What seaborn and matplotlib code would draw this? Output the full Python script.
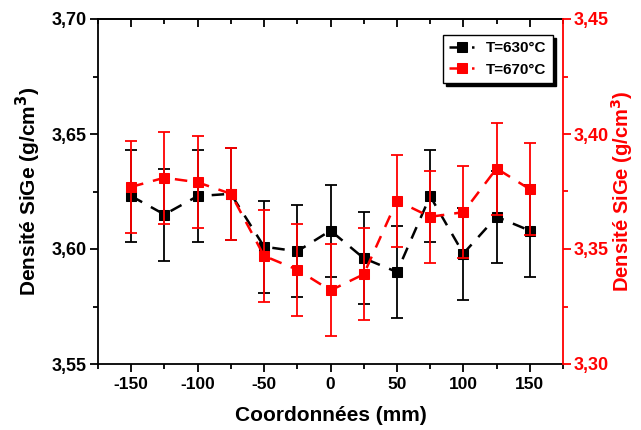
import matplotlib
matplotlib.use("Agg")
import matplotlib.pyplot as plt
import matplotlib.ticker as mticker
import pandas as pd
import seaborn as sns

coords = [-150, -125, -100, -75, -50, -25, 0, 25, 50, 75, 100, 125, 150]
dens_630 = [3.623, 3.615, 3.623, 3.624, 3.601, 3.599, 3.608, 3.596, 3.590, 3.623, 3.598, 3.614, 3.608]
err_630 = [0.02] * 13
dens_670 = [3.377, 3.381, 3.379, 3.374, 3.347, 3.341, 3.332, 3.339, 3.371, 3.364, 3.366, 3.385, 3.376]
err_670 = [0.02] * 13


def comma_fmt(v, pos):
    return f"{v:.2f}".replace(".", ",")


def main():
    sns.set_style("ticks")
    plt.rcParams["font.family"] = ["Liberation Sans", "DejaVu Sans"]
    plt.rcParams["font.weight"] = "bold"
    plt.rcParams["axes.unicode_minus"] = False
    plt.rcParams["text.color"] = "black"
    plt.rcParams["axes.labelcolor"] = "black"
    plt.rcParams["xtick.color"] = "black"
    plt.rcParams["ytick.color"] = "black"

    df = pd.DataFrame({"x": coords, "d630": dens_630, "e630": err_630,
                       "d670": dens_670, "e670": err_670})

    fig = plt.figure(figsize=(6.41, 4.30), dpi=100)
    ax = fig.add_axes([98 / 641, 66 / 430, 465 / 641, 345 / 430])
    ax2 = ax.twinx()

    ax.errorbar(df["x"], df["d630"], yerr=df["e630"], fmt="none",
                ecolor="black", elinewidth=1.3, capsize=4, capthick=1.3)
    sns.lineplot(data=df, x="x", y="d630", ax=ax, color="black", marker="s",
                 markersize=7, markeredgecolor="black", linewidth=1.8,
                 label="T=630°C", legend=False)
    ax.lines[-1].set_dashes([5, 4])

    ax2.errorbar(df["x"], df["d670"], yerr=df["e670"], fmt="none",
                 ecolor="red", elinewidth=1.3, capsize=4, capthick=1.3)
    sns.lineplot(data=df, x="x", y="d670", ax=ax2, color="red", marker="s",
                 markersize=7, markeredgecolor="red", linewidth=1.8,
                 label="T=670°C", legend=False)
    ax2.lines[-1].set_dashes([5, 4])

    ax.set_xlim(-175, 175)
    ax.set_ylim(3.55, 3.70)
    ax2.set_ylim(3.30, 3.45)

    ax.xaxis.set_major_locator(mticker.MultipleLocator(50))
    ax.xaxis.set_minor_locator(mticker.MultipleLocator(25))
    ax.yaxis.set_major_locator(mticker.MultipleLocator(0.05))
    ax.yaxis.set_minor_locator(mticker.MultipleLocator(0.025))
    ax2.yaxis.set_major_locator(mticker.MultipleLocator(0.05))
    ax2.yaxis.set_minor_locator(mticker.MultipleLocator(0.025))
    ax.yaxis.set_major_formatter(mticker.FuncFormatter(comma_fmt))
    ax2.yaxis.set_major_formatter(mticker.FuncFormatter(comma_fmt))

    # top axis: inward ticks, no labels
    top = ax.secondary_xaxis("top")
    top.xaxis.set_major_locator(mticker.MultipleLocator(50))
    top.xaxis.set_minor_locator(mticker.MultipleLocator(25))
    top.tick_params(axis="x", which="both", direction="in", labeltop=False, width=1.3)
    top.tick_params(axis="x", which="major", length=5.5)
    top.tick_params(axis="x", which="minor", length=3.5)
    top.spines["top"].set_linewidth(1.3)

    ax.tick_params(axis="x", which="both", direction="out", labelsize=12.5, width=1.3, pad=4)
    ax.tick_params(axis="x", which="major", length=5.5)
    ax.tick_params(axis="x", which="minor", length=3.5)
    ax.tick_params(axis="y", which="major", direction="out", length=6, width=1.3,
                   labelsize=13, pad=2)
    ax.tick_params(axis="y", which="minor", direction="out", length=3.5, width=1.3)
    ax2.tick_params(axis="y", which="major", direction="out", length=6, width=1.3,
                    labelsize=13, colors="red", pad=2)
    ax2.tick_params(axis="y", which="minor", direction="out", length=3.5, width=1.3, colors="red")
    for lab in ax.get_xticklabels() + ax.get_yticklabels() + ax2.get_yticklabels():
        lab.set_fontweight("bold")

    for side in ["left", "bottom", "top"]:
        ax.spines[side].set_linewidth(1.3)
        ax.spines[side].set_color("black")
    ax2.spines["right"].set_color("red")
    ax2.spines["right"].set_linewidth(1.3)
    ax2.spines["left"].set_visible(False)
    ax.spines["right"].set_visible(False)
    ax2.spines["top"].set_visible(False)
    ax2.spines["bottom"].set_visible(False)

    ax.set_xlabel("Coordonnées (mm)", fontsize=15, fontweight="bold", labelpad=10)
    ax.set_ylabel("Densité SiGe (g/cm$^\\mathbf{3}$)", fontsize=15, fontweight="bold", labelpad=6)
    ax2.set_ylabel("Densité SiGe (g/cm$^\\mathbf{3}$)", fontsize=14.5, fontweight="bold",
                   color="red", labelpad=0)

    handles = [ax.lines[-1], ax2.lines[-1]]
    leg = ax2.legend(handles, ["T=630°C", "T=670°C"], loc="upper right",
                     bbox_to_anchor=(0.978, 0.954), borderaxespad=0,
                     frameon=True, fancybox=False, shadow={"color": "black", "alpha": 1},
                     edgecolor="black", framealpha=1, handlelength=1.6,
                     prop={"weight": "bold", "size": 11})
    leg.get_frame().set_linewidth(1.0)

    fig.savefig("out.png", dpi=100)
    plt.close(fig)


if __name__ == "__main__":
    main()
